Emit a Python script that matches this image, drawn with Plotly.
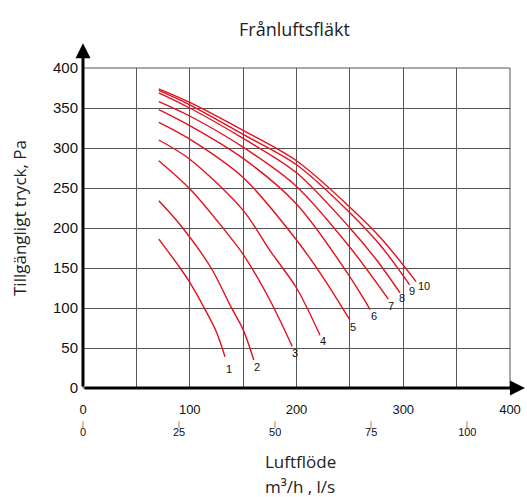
import plotly.graph_objects as go

# Airflow (m3/h) and available pressure (Pa) for fan curves 1..10
curve_names = ["1", "2", "3", "4", "5", "6", "7", "8", "9", "10"]
x1 = [71, 91, 100, 114, 125, 133]
y1 = [186, 150, 132, 99, 70, 39]
x2 = [71, 91, 120, 138, 150, 160]
y2 = [234, 204, 150, 103, 73, 35]
x3 = [71, 100, 125, 150, 175, 196]
y3 = [284, 249, 210, 167, 110, 52]
x4 = [71, 100, 150, 175, 200, 222]
y4 = [310, 286, 222, 172, 125, 66]
x5 = [71, 100, 150, 200, 225, 250]
y5 = [332, 311, 263, 185, 138, 85]
x6 = [71, 100, 150, 200, 250, 269]
y6 = [348, 328, 287, 230, 139, 98]
x7 = [71, 100, 150, 200, 250, 286]
y7 = [358, 340, 301, 252, 176, 111]
x8 = [71, 100, 150, 200, 250, 275, 297]
y8 = [369, 350, 312, 269, 200, 160, 119]
x9 = [71, 100, 150, 200, 250, 280, 306]
y9 = [372, 354, 317, 279, 219, 176, 129]
x10 = [71, 100, 150, 200, 250, 280, 312]
y10 = [374, 357, 322, 284, 226, 186, 133]
curves_x = [x1, x2, x3, x4, x5, x6, x7, x8, x9, x10]
curves_y = [y1, y2, y3, y4, y5, y6, y7, y8, y9, y10]

# curve number label positions (data coords)
label_x = [136.7, 163, 198.5, 224.7, 252.8, 272.5, 288.4, 298.7, 308, 319.3]
label_y = [23.7, 26, 44, 59, 76, 90, 102.5, 112.5, 121, 127.5]

x_tickvals = [0, 50, 100, 150, 200, 250, 300, 350, 400]
x_ticktext = ["0", "", "100", "", "200", "", "300", "", "400"]
y_tickvals = [0, 50, 100, 150, 200, 250, 300, 350, 400]
ls_tickvals = [0, 25, 50, 75, 100]
M3H_PER_LS = 3.6

RED = "#e3101e"
GRID = "#555555"

W, H = 527, 497
L, R, t, b = 83, 17, 68, 40
paper_w = W - L - R
paper_h = H - t - b
plot_bottom_px = 388
dom_bottom = (H - b - plot_bottom_px) / paper_h
ls_axis_px = 424
ls_pos = (H - b - ls_axis_px) / paper_h

def px_x(p):
    return (p - L) / paper_w
def px_y(p):
    return (H - b - p) / paper_h

fig = go.Figure()
for name, xs, ys in zip(curve_names, curves_x, curves_y):
    fig.add_trace(go.Scatter(x=xs, y=ys, mode="lines", name=name,
                             line=dict(color=RED, width=1.4, shape="spline", smoothing=0.9),
                             showlegend=False, hoverinfo="skip"))

for name, lx, ly in zip(curve_names, label_x, label_y):
    fig.add_annotation(x=lx, y=ly, text=name, showarrow=False, xanchor="center",
                       font=dict(family="Liberation Sans, Arial", size=11, color="#111"))

# small tick marks just above the l/s labels (l/s converted to m3/h on the main axis)
for v in ls_tickvals:
    fig.add_annotation(x=v * M3H_PER_LS, xref="x", y=px_y(424), yref="paper",
                       text="|", showarrow=False, xanchor="center", yanchor="middle",
                       font=dict(family="Liberation Sans, Arial", size=7, color="#333"))

# secondary l/s axis (labels only)
fig.add_trace(go.Scatter(x=[0, 400 / M3H_PER_LS], y=[None, None], xaxis="x2", yaxis="y",
                         mode="lines", showlegend=False, hoverinfo="skip"))

fig.update_layout(
    width=W, height=H,
    margin=dict(l=L, r=R, t=t, b=b, autoexpand=False),
    plot_bgcolor="white", paper_bgcolor="white",
    xaxis=dict(range=[0, 400], tickvals=x_tickvals, ticktext=x_ticktext,
               showgrid=True, gridcolor=GRID, gridwidth=1, zeroline=False,
               showline=False, ticks="",
               tickfont=dict(family="Liberation Sans, Arial", size=13, color="#111"),
               ticklabelstandoff=12, anchor="y", automargin=False),
    xaxis2=dict(range=[0, 400 / M3H_PER_LS], overlaying="x", anchor="free", position=ls_pos,
                side="bottom", tickvals=ls_tickvals, showgrid=False, zeroline=False,
                showline=False, ticks="",
                tickfont=dict(family="Liberation Sans, Arial", size=11, color="#111"),
                automargin=False),
    yaxis=dict(range=[0, 400], tickvals=y_tickvals, domain=[dom_bottom, 1],
               showgrid=True, gridcolor=GRID, gridwidth=1, zeroline=False,
               showline=False, ticks="",
               tickfont=dict(family="Liberation Sans, Arial", size=15, color="#111"),
               ticklabelstandoff=4, automargin=False),
)

# plot frame (top and right edges of the grid)
fig.add_shape(type="rect", xref="x domain", yref="y domain", x0=0, x1=1, y0=0, y1=1,
              line=dict(color=GRID, width=1), layer="below")

# thick axes with arrow heads
fig.add_annotation(x=0, y=431, ax=0, ay=0, xref="x", yref="y", axref="x", ayref="y",
                   text="", showarrow=True, arrowhead=2, arrowsize=1.0, arrowwidth=3,
                   arrowcolor="black")
fig.add_annotation(x=414, y=0, ax=0, ay=0, xref="x", yref="y", axref="x", ayref="y",
                   text="", showarrow=True, arrowhead=2, arrowsize=1.0, arrowwidth=3,
                   arrowcolor="black")

TITLEFONT = "Open Sans, Noto Sans, sans-serif"
fig.add_annotation(text="Frånluftsfläkt", xref="paper", yref="paper",
                   x=px_x(294), y=px_y(29), showarrow=False, xanchor="center", yanchor="middle",
                   font=dict(family=TITLEFONT, size=18, color="#222"))
fig.add_annotation(text="Luftflöde", xref="paper", yref="paper",
                   x=px_x(300), y=px_y(461), showarrow=False, xanchor="center", yanchor="middle",
                   font=dict(family=TITLEFONT, size=17, color="#222"))
fig.add_annotation(text="m³/h , l/s", xref="paper", yref="paper",
                   x=px_x(300), y=px_y(486), showarrow=False, xanchor="center", yanchor="middle",
                   font=dict(family=TITLEFONT, size=17, color="#222"))
fig.add_annotation(text="Tillgängligt tryck, Pa", xref="paper", yref="paper",
                   x=px_x(19), y=px_y(218), showarrow=False, xanchor="center", yanchor="middle",
                   textangle=-90,
                   font=dict(family=TITLEFONT, size=17, color="#222"))

fig.write_html("out.html")
